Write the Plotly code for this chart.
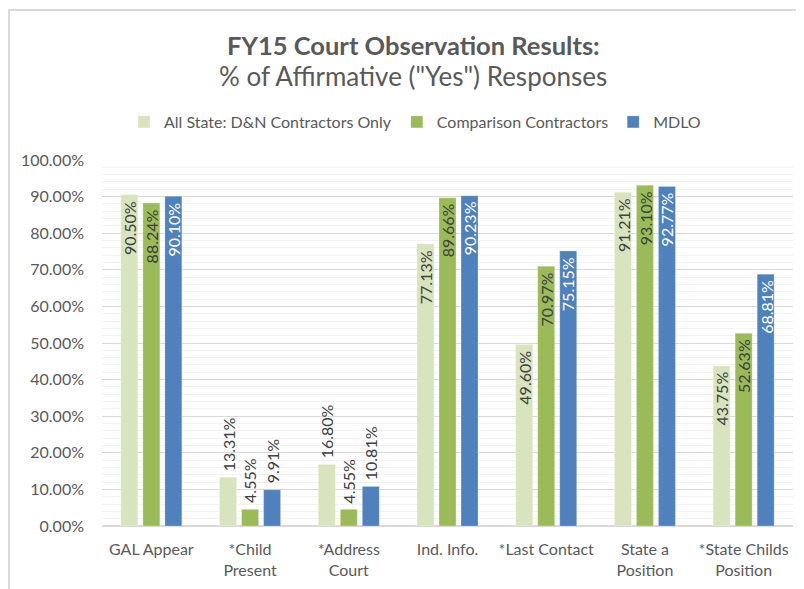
import plotly.graph_objects as go

categories = ["GAL Appear", "*Child<br>Present", "*Address<br>Court", "Ind. Info.",
              "*Last Contact", "State a<br>Position", "*State Childs<br>Position"]
all_state = [90.50, 13.31, 16.80, 77.13, 49.60, 91.21, 43.75]
comparison = [88.24, 4.55, 4.55, 89.66, 70.97, 93.10, 52.63]
mdlo = [90.10, 9.91, 10.81, 90.23, 75.15, 92.77, 68.81]
series_names = ["All State: D&N Contractors Only", "Comparison Contractors", "MDLO"]
colors = ["#D7E4BD", "#9BBB59", "#4F81BD"]
text_colors = ["#404040", "#404040", "#FFFFFF"]

FONT = "Lato, 'Open Sans', sans-serif"
GRAY = "#595959"
# page has an 8px body margin; figure sized so it fills the window exactly
OFF = 8
W, H = 804 - OFF, 589 - OFF
L, T = 102 - OFF, 160 - OFF
R = W - (793 - OFF)
B = H - (526 - OFF)
PW, PH = W - L - R, H - T - B

offsets = [-0.223, 0.0, 0.223]
bar_w = 0.172
idx = list(range(len(categories)))

fig = go.Figure()
annotations = []
for name, vals, c, tc, off in zip(series_names, [all_state, comparison, mdlo], colors, text_colors, offsets):
    xs = [i + off for i in idx]
    fig.add_trace(go.Bar(
        x=xs, y=vals, name=name, width=bar_w,
        marker=dict(color=c, line=dict(color="rgba(255,255,255,0.5)", width=0.5)),
        hoverinfo="y",
    ))
    for x, v in zip(xs, vals):
        inside = v > 25
        annotations.append(dict(
            x=x, y=v, xref="x", yref="y", text=f"{v:.2f}%", showarrow=False,
            textangle=-90, xanchor="center",
            yanchor="top" if inside else "bottom",
            yshift=-4 if inside else 4,
            font=dict(size=16, color=tc if inside else "#404040", family=FONT),
        ))

tx = (413 - OFF - L) / PW
annotations.append(dict(
    text="<b>FY15 Court Observation Results:</b>", x=tx, y=1 + (T - (45 - OFF)) / PH,
    xref="paper", yref="paper", showarrow=False, xanchor="center", yanchor="middle",
    font=dict(size=25.5, color=GRAY, family=FONT)))
annotations.append(dict(
    text="% of Affirmative (\"Yes\") Responses", x=tx, y=1 + (T - (76 - OFF)) / PH,
    xref="paper", yref="paper", showarrow=False, xanchor="center", yanchor="middle",
    font=dict(size=26, color=GRAY, family=FONT)))

fig.update_layout(
    width=W, height=H,
    paper_bgcolor="white", plot_bgcolor="white",
    margin=dict(l=L, r=R, t=T, b=B, autoexpand=False),
    barmode="overlay",
    font=dict(family=FONT, color=GRAY, size=16),
    legend=dict(orientation="h", x=(415 - OFF - L) / PW, xanchor="center",
                y=1 + (T - (122 - OFF)) / PH, yanchor="middle",
                font=dict(size=16, color=GRAY), traceorder="normal"),
    annotations=annotations,
)
fig.update_yaxes(
    range=[0, 100], dtick=10, ticksuffix="%", tickformat=".2f",
    showgrid=True, gridcolor="#D9D9D9", gridwidth=1,
    minor=dict(dtick=2, showgrid=True, gridcolor="#F2F2F2", gridwidth=1),
    zeroline=True, zerolinecolor="#D9D9D9", zerolinewidth=2,
    tickfont=dict(size=16, color=GRAY), ticks="", ticklabelstandoff=17,
    automargin=False, fixedrange=True,
)
fig.update_xaxes(
    range=[-0.5, len(categories) - 0.5], tickvals=idx, ticktext=categories,
    showline=False, showgrid=False, zeroline=False,
    tickfont=dict(size=16, color=GRAY), ticks="", ticklabelstandoff=12,
    automargin=False,
)
bx = (9 - OFF - L) / PW
fig.add_shape(type="rect", xref="paper", yref="paper",
              x0=bx, x1=1 + (R + 20) / PW, y0=-(B + 20) / PH, y1=1 + (T - 2) / PH,
              line=dict(color="#D9D9D9", width=2), fillcolor="rgba(0,0,0,0)", layer="above")
fig.write_html("out.html")
